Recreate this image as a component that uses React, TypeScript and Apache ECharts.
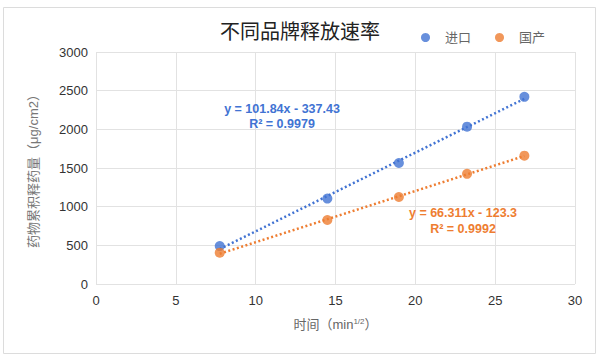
import React, { useEffect, useRef } from "react";
import * as echarts from "echarts";

const title = "不同品牌释放速率";
const seriesNames = ["进口", "国产"];
const timeSqrt = [7.75, 14.49, 18.97, 23.24, 26.83];
const importValues = [490, 1105, 1565, 2035, 2420];
const domesticValues = [405, 828, 1125, 1425, 1660];
const importFit = { slope: 101.84, intercept: -337.43, r2: "0.9979" };
const domesticFit = { slope: 66.311, intercept: -123.3, r2: "0.9992" };
const importEq = "y = 101.84x - 337.43";
const domesticEq = "y = 66.311x - 123.3";
const xTicks = { min: 0, max: 30, interval: 5 };
const yTicks = { min: 0, max: 3000, interval: 500 };

const BLUE = "#4173d3";
const ORANGE = "#ee7d31";
const FONT = "'Helvetica Neue', Arial, 'Liberation Sans', 'Noto Sans CJK SC', sans-serif";

function fitLine(fit: { slope: number; intercept: number }) {
  const x0 = timeSqrt[0];
  const x1 = timeSqrt[timeSqrt.length - 1];
  return [
    [x0, fit.slope * x0 + fit.intercept],
    [x1, fit.slope * x1 + fit.intercept],
  ];
}

export default function App() {
  const ref = useRef<HTMLDivElement>(null);
  useEffect(() => {
    if (!ref.current) return;
    const chart = echarts.init(ref.current, undefined, { renderer: "svg" });
    const scatter = (name: string, vals: number[], color: string) => ({
      name,
      type: "scatter",
      symbolSize: 10,
      data: timeSqrt.map((x, i) => [x, vals[i]]),
      itemStyle: { color },
      z: 3,
    });
    const trend = (data: number[][], color: string) => ({
      type: "line",
      data,
      symbol: "none",
      lineStyle: { color, width: 2.5, type: [2, 2.5], cap: "butt" },
      z: 2,
      silent: true,
    });
    const eqText = (text: string, x: number, y: number, color: string) => ({
      type: "text",
      x,
      y,
      z: 100,
      style: { text, fill: color, font: `bold 12.5px ${FONT}`, align: "center", verticalAlign: "middle" },
    });
    chart.setOption({
      animation: false,
      backgroundColor: "#fff",
      title: {
        text: title,
        left: 295,
        top: 17,
        textAlign: "center",
        textStyle: { fontSize: 20, fontWeight: "normal", color: "#222", fontFamily: FONT },
      },
      legend: {
        data: seriesNames,
        left: 416,
        top: 26,
        itemWidth: 9,
        itemHeight: 9,
        itemGap: 24,
        icon: "circle",
        textStyle: { fontSize: 13, color: "#666", fontFamily: FONT, padding: [0, 0, 0, 10] },
      },
      grid: { left: 96, right: 25, top: 52, bottom: 76 },
      xAxis: {
        type: "value",
        ...xTicks,
        name: "{a|时间（min}{s|1/2}{a|）}",
        nameLocation: "middle",
        nameGap: 33,
        nameTextStyle: {
          rich: {
            a: { fontSize: 13, color: "#666", fontFamily: FONT },
            s: { fontSize: 8, color: "#666", fontFamily: FONT, verticalAlign: "top", padding: [0, 0, 6, 0] },
          },
        },
        axisLine: { show: false },
        axisTick: { show: false },
        axisLabel: { fontSize: 13, color: "#333", margin: 10, fontFamily: FONT },
        splitLine: { show: true, lineStyle: { color: "#e2e2e2", width: 1 } },
      },
      yAxis: {
        type: "value",
        ...yTicks,
        name: "药物累积释药量（μg/cm2）",
        nameLocation: "middle",
        nameRotate: 90,
        nameGap: 56,
        nameTextStyle: { fontSize: 13, color: "#777", fontFamily: FONT },
        axisLine: { show: false },
        axisTick: { show: false },
        axisLabel: { fontSize: 13, color: "#333", margin: 8, fontFamily: FONT, formatter: (v: number) => String(v) },
        splitLine: { show: true, lineStyle: { color: "#e2e2e2", width: 1 } },
      },
      graphic: [
        {
          type: "rect",
          shape: { x: 3.5, y: 7.5, width: 592, height: 346 },
          style: { fill: "none", stroke: "#dcdcdc", lineWidth: 1 },
          silent: true,
          z: -1,
        },
        eqText(importEq, 282, 109, BLUE),
        eqText("R² = " + importFit.r2, 282, 124, BLUE),
        eqText(domesticEq, 463, 213, ORANGE),
        eqText("R² = " + domesticFit.r2, 463, 229, ORANGE),
      ],
      series: [
        scatter(seriesNames[0], importValues, BLUE),
        scatter(seriesNames[1], domesticValues, ORANGE),
        trend(fitLine(importFit), BLUE),
        trend(fitLine(domesticFit), ORANGE),
      ],
    });
    return () => chart.dispose();
  }, []);
  return <div ref={ref} style={{ width: 600, height: 360, position: "absolute", left: 0, top: 0 }} />;
}
